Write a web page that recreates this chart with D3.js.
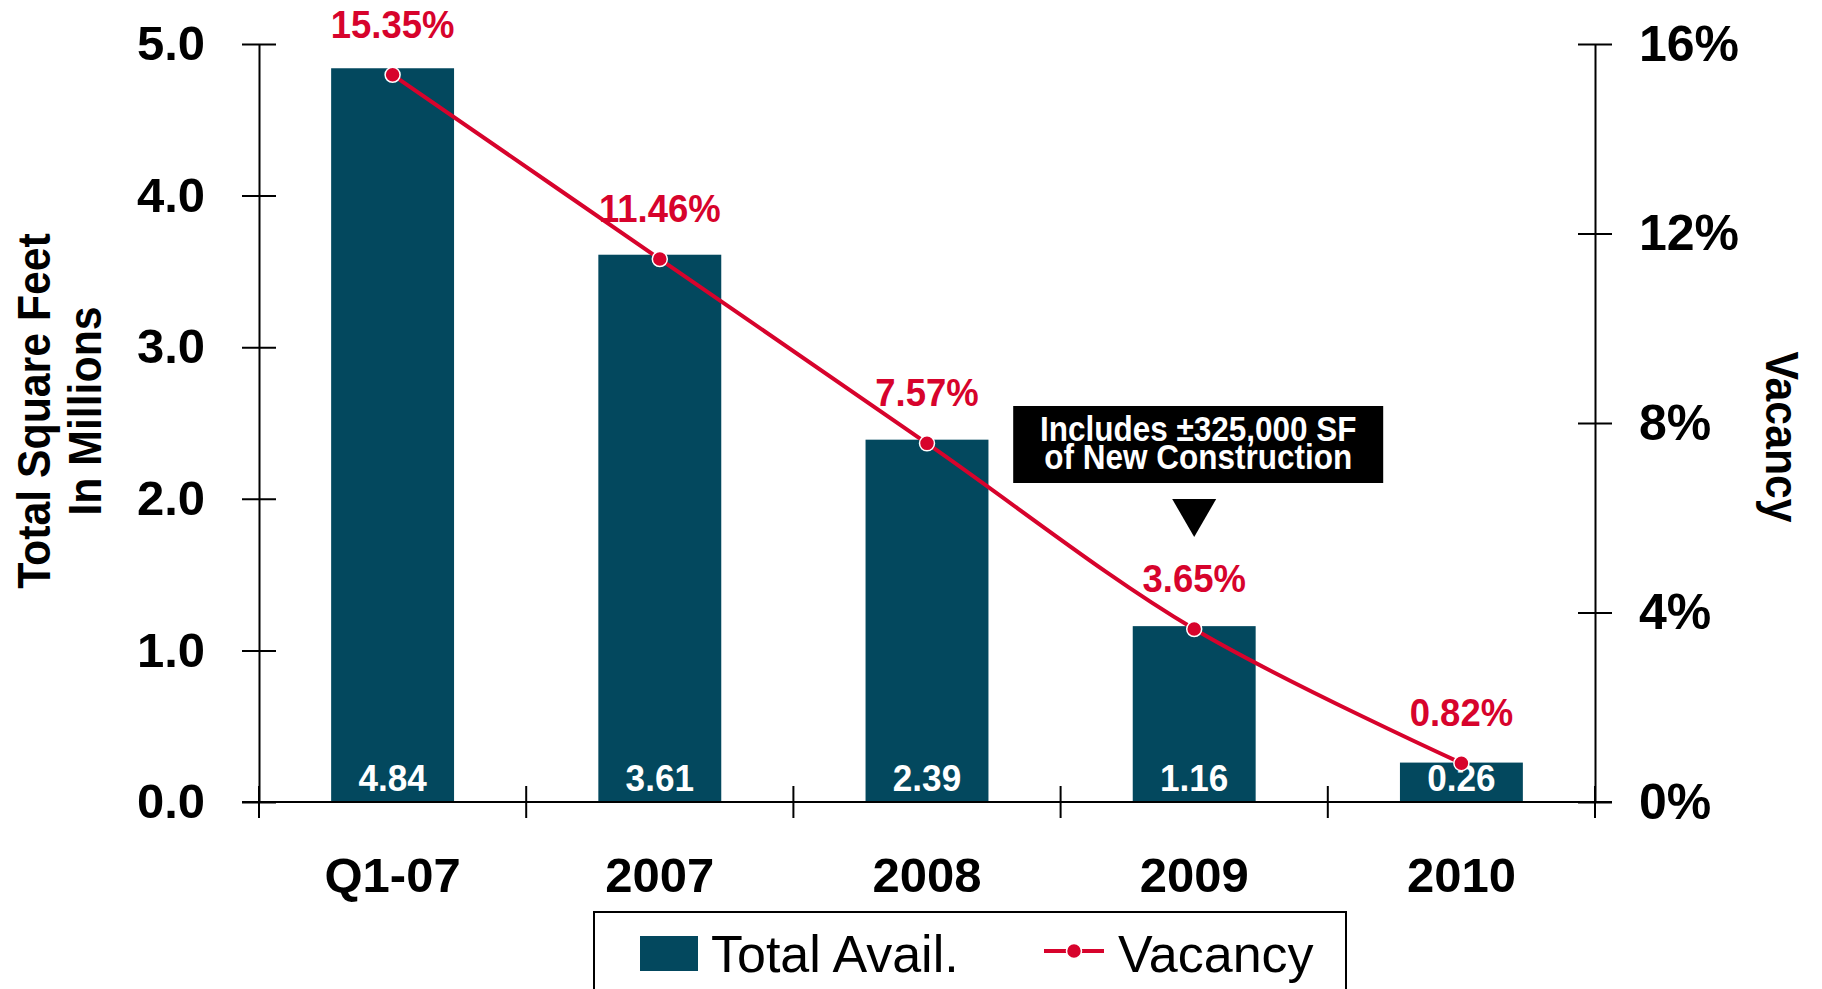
<!DOCTYPE html>
<html lang="en">
<head>
  <meta charset="UTF-8" />
  <title>Total Avail. and Vacancy</title>
  <script src="https://d3js.org/d3.v7.min.js"></script>
  <style>
    html, body {
      margin: 0;
      padding: 0;
      background: #fff;
      overflow: hidden;
    }
    svg text {
      font-family: "Liberation Sans", Arial, sans-serif;
    }
  </style>
</head>
<body>
  <div id="chart"></div>
  <script>
    // ---- data ----
    const categories = ["Q1-07", "2007", "2008", "2009", "2010"];
    const totalAvail = [4.84, 3.61, 2.39, 1.16, 0.26];   // million SF
    const vacancy = [15.35, 11.46, 7.57, 3.65, 0.82];    // percent
    const leftTicks = [0, 1, 2, 3, 4, 5];
    const rightTicks = [0, 4, 8, 12, 16];
    const noteLines = ["Includes \u00B1325,000 SF", "of New Construction"];
    const noteCategory = "2009";

    const width = 1822, height = 989;
    const barColor = "#03485e";
    const red = "#d7032c";

    // plot area
    const plotLeft = 259, plotRight = 1595, plotTop = 44, plotBottom = 802;

    const svg = d3.select("#chart")
      .append("svg")
      .attr("width", width)
      .attr("height", height);

    const x = d3.scaleBand()
      .domain(categories)
      .range([plotLeft, plotRight])
      .paddingInner(0.54)
      .paddingOuter(0.27);

    const y = d3.scaleLinear().domain([0, 5]).range([plotBottom, plotTop]);
    const y2 = d3.scaleLinear().domain([0, 16]).range([plotBottom, plotTop]);

    const cx = d => x(d) + x.bandwidth() / 2;

    // text squeezed horizontally (the source fonts are narrow)
    function squeezed(g, px, py, sx, rot) {
      return g.append("text")
        .attr("transform", `translate(${px},${py}) rotate(${rot || 0}) scale(${sx},1)`);
    }

    // ---- bars ----
    svg.append("g")
      .selectAll("rect")
      .data(categories)
      .join("rect")
      .attr("x", d => x(d))
      .attr("y", (d, i) => y(totalAvail[i]))
      .attr("width", x.bandwidth())
      .attr("height", (d, i) => y(0) - y(totalAvail[i]))
      .attr("fill", barColor);

    // bar values, white, at the base
    const valLabels = svg.append("g");
    categories.forEach((c, i) => {
      squeezed(valLabels, cx(c), 791, 0.95)
        .attr("text-anchor", "middle")
        .attr("fill", "#fff")
        .attr("font-weight", "bold")
        .attr("font-size", 37)
        .text(d3.format(".2f")(totalAvail[i]));
    });

    // ---- left axis ----
    const gl = svg.append("g")
      .attr("transform", `translate(${plotLeft},0)`)
      .call(d3.axisLeft(y)
        .tickValues(leftTicks)
        .tickFormat(d3.format(".1f"))
        .tickSize(17)
        .tickSizeOuter(0)
        .tickPadding(37));
    gl.selectAll(".tick line").attr("x1", 17).attr("stroke-width", 2);
    gl.select(".domain").attr("stroke-width", 2);
    gl.selectAll("text")
      .attr("font-size", 49)
      .attr("font-weight", "bold")
      .attr("fill", "#000");

    // ---- right axis ----
    const gr = svg.append("g")
      .attr("transform", `translate(${plotRight},0)`)
      .call(d3.axisRight(y2)
        .tickValues(rightTicks)
        .tickFormat(d => d + "%")
        .tickSize(17)
        .tickSizeOuter(0)
        .tickPadding(27));
    gr.selectAll(".tick line").attr("x1", -17).attr("stroke-width", 2);
    gr.select(".domain").attr("stroke-width", 2);
    gr.selectAll("text")
      .attr("font-size", 50)
      .attr("font-weight", "bold")
      .attr("fill", "#000");

    // ---- bottom axis: base line, boundary ticks, category labels ----
    const gb = svg.append("g")
      .attr("transform", `translate(0,${plotBottom})`)
      .call(d3.axisBottom(x).tickSize(0).tickPadding(55));
    gb.select(".domain").remove();
    gb.selectAll("text")
      .attr("font-size", 49)
      .attr("font-weight", "bold")
      .attr("fill", "#000");

    gb.append("line")
      .attr("x1", plotLeft - 17).attr("x2", plotRight + 17)
      .attr("stroke", "#000").attr("stroke-width", 2);

    const bounds = d3.range(categories.length + 1).map(i => plotLeft + i * x.step());
    gb.selectAll(".bound")
      .data(bounds)
      .join("line")
      .attr("class", "bound")
      .attr("x1", d => d).attr("x2", d => d)
      .attr("y1", -16).attr("y2", 16)
      .attr("stroke", "#000").attr("stroke-width", 2);

    // ---- axis titles ----
    const titles = svg.append("g").attr("font-weight", "bold").attr("font-size", 46);
    squeezed(titles, 50, 411, 0.93, -90).attr("text-anchor", "middle").text("Total Square Feet");
    squeezed(titles, 101, 411, 0.93, -90).attr("text-anchor", "middle").text("In Millions");
    squeezed(titles, 1766, 437, 0.93, 90).attr("text-anchor", "middle").text("Vacancy");

    // ---- vacancy line ----
    const line = d3.line()
      .x((d, i) => cx(categories[i]))
      .y(d => y2(d))
      .curve(d3.curveCatmullRom.alpha(0.5));

    svg.append("path")
      .datum(vacancy)
      .attr("d", line)
      .attr("fill", "none")
      .attr("stroke", red)
      .attr("stroke-width", 4);

    svg.append("g")
      .selectAll("circle")
      .data(vacancy)
      .join("circle")
      .attr("cx", (d, i) => cx(categories[i]))
      .attr("cy", d => y2(d))
      .attr("r", 7.5)
      .attr("fill", red)
      .attr("stroke", "#fff")
      .attr("stroke-width", 1.5);

    const vacLabels = svg.append("g");
    vacancy.forEach((v, i) => {
      squeezed(vacLabels, cx(categories[i]), y2(v) - 37, 0.96)
        .attr("text-anchor", "middle")
        .attr("fill", red)
        .attr("font-weight", "bold")
        .attr("font-size", 38)
        .text(d3.format(".2f")(v) + "%");
    });

    // ---- annotation box with arrow ----
    const nx = cx(noteCategory);
    const note = svg.append("g");
    note.append("rect")
      .attr("x", nx - 181).attr("y", 406)
      .attr("width", 370).attr("height", 77)
      .attr("fill", "#000");
    noteLines.forEach((t, i) => {
      squeezed(note, nx + 4, 441 + i * 28, 0.9)
        .attr("text-anchor", "middle")
        .attr("fill", "#fff")
        .attr("font-weight", "bold")
        .attr("font-size", 35)
        .text(t);
    });
    note.append("path")
      .attr("d", `M${nx - 22},499 L${nx + 22},499 L${nx},537 Z`)
      .attr("fill", "#000");

    // ---- legend ----
    const lg = svg.append("g");
    lg.append("rect")
      .attr("x", 594).attr("y", 912)
      .attr("width", 752).attr("height", 100)
      .attr("fill", "none").attr("stroke", "#000").attr("stroke-width", 2);
    lg.append("rect")
      .attr("x", 640).attr("y", 936)
      .attr("width", 58).attr("height", 35)
      .attr("fill", barColor);
    lg.append("text")
      .attr("x", 711).attr("y", 972)
      .attr("font-size", 52)
      .text("Total Avail.");
    lg.append("line")
      .attr("x1", 1044).attr("x2", 1104)
      .attr("y1", 951).attr("y2", 951)
      .attr("stroke", red).attr("stroke-width", 4);
    lg.append("circle")
      .attr("cx", 1074).attr("cy", 951).attr("r", 7.5)
      .attr("fill", red).attr("stroke", "#fff").attr("stroke-width", 1.5);
    lg.append("text")
      .attr("x", 1118).attr("y", 972)
      .attr("font-size", 52)
      .text("Vacancy");
  </script>
</body>
</html>
